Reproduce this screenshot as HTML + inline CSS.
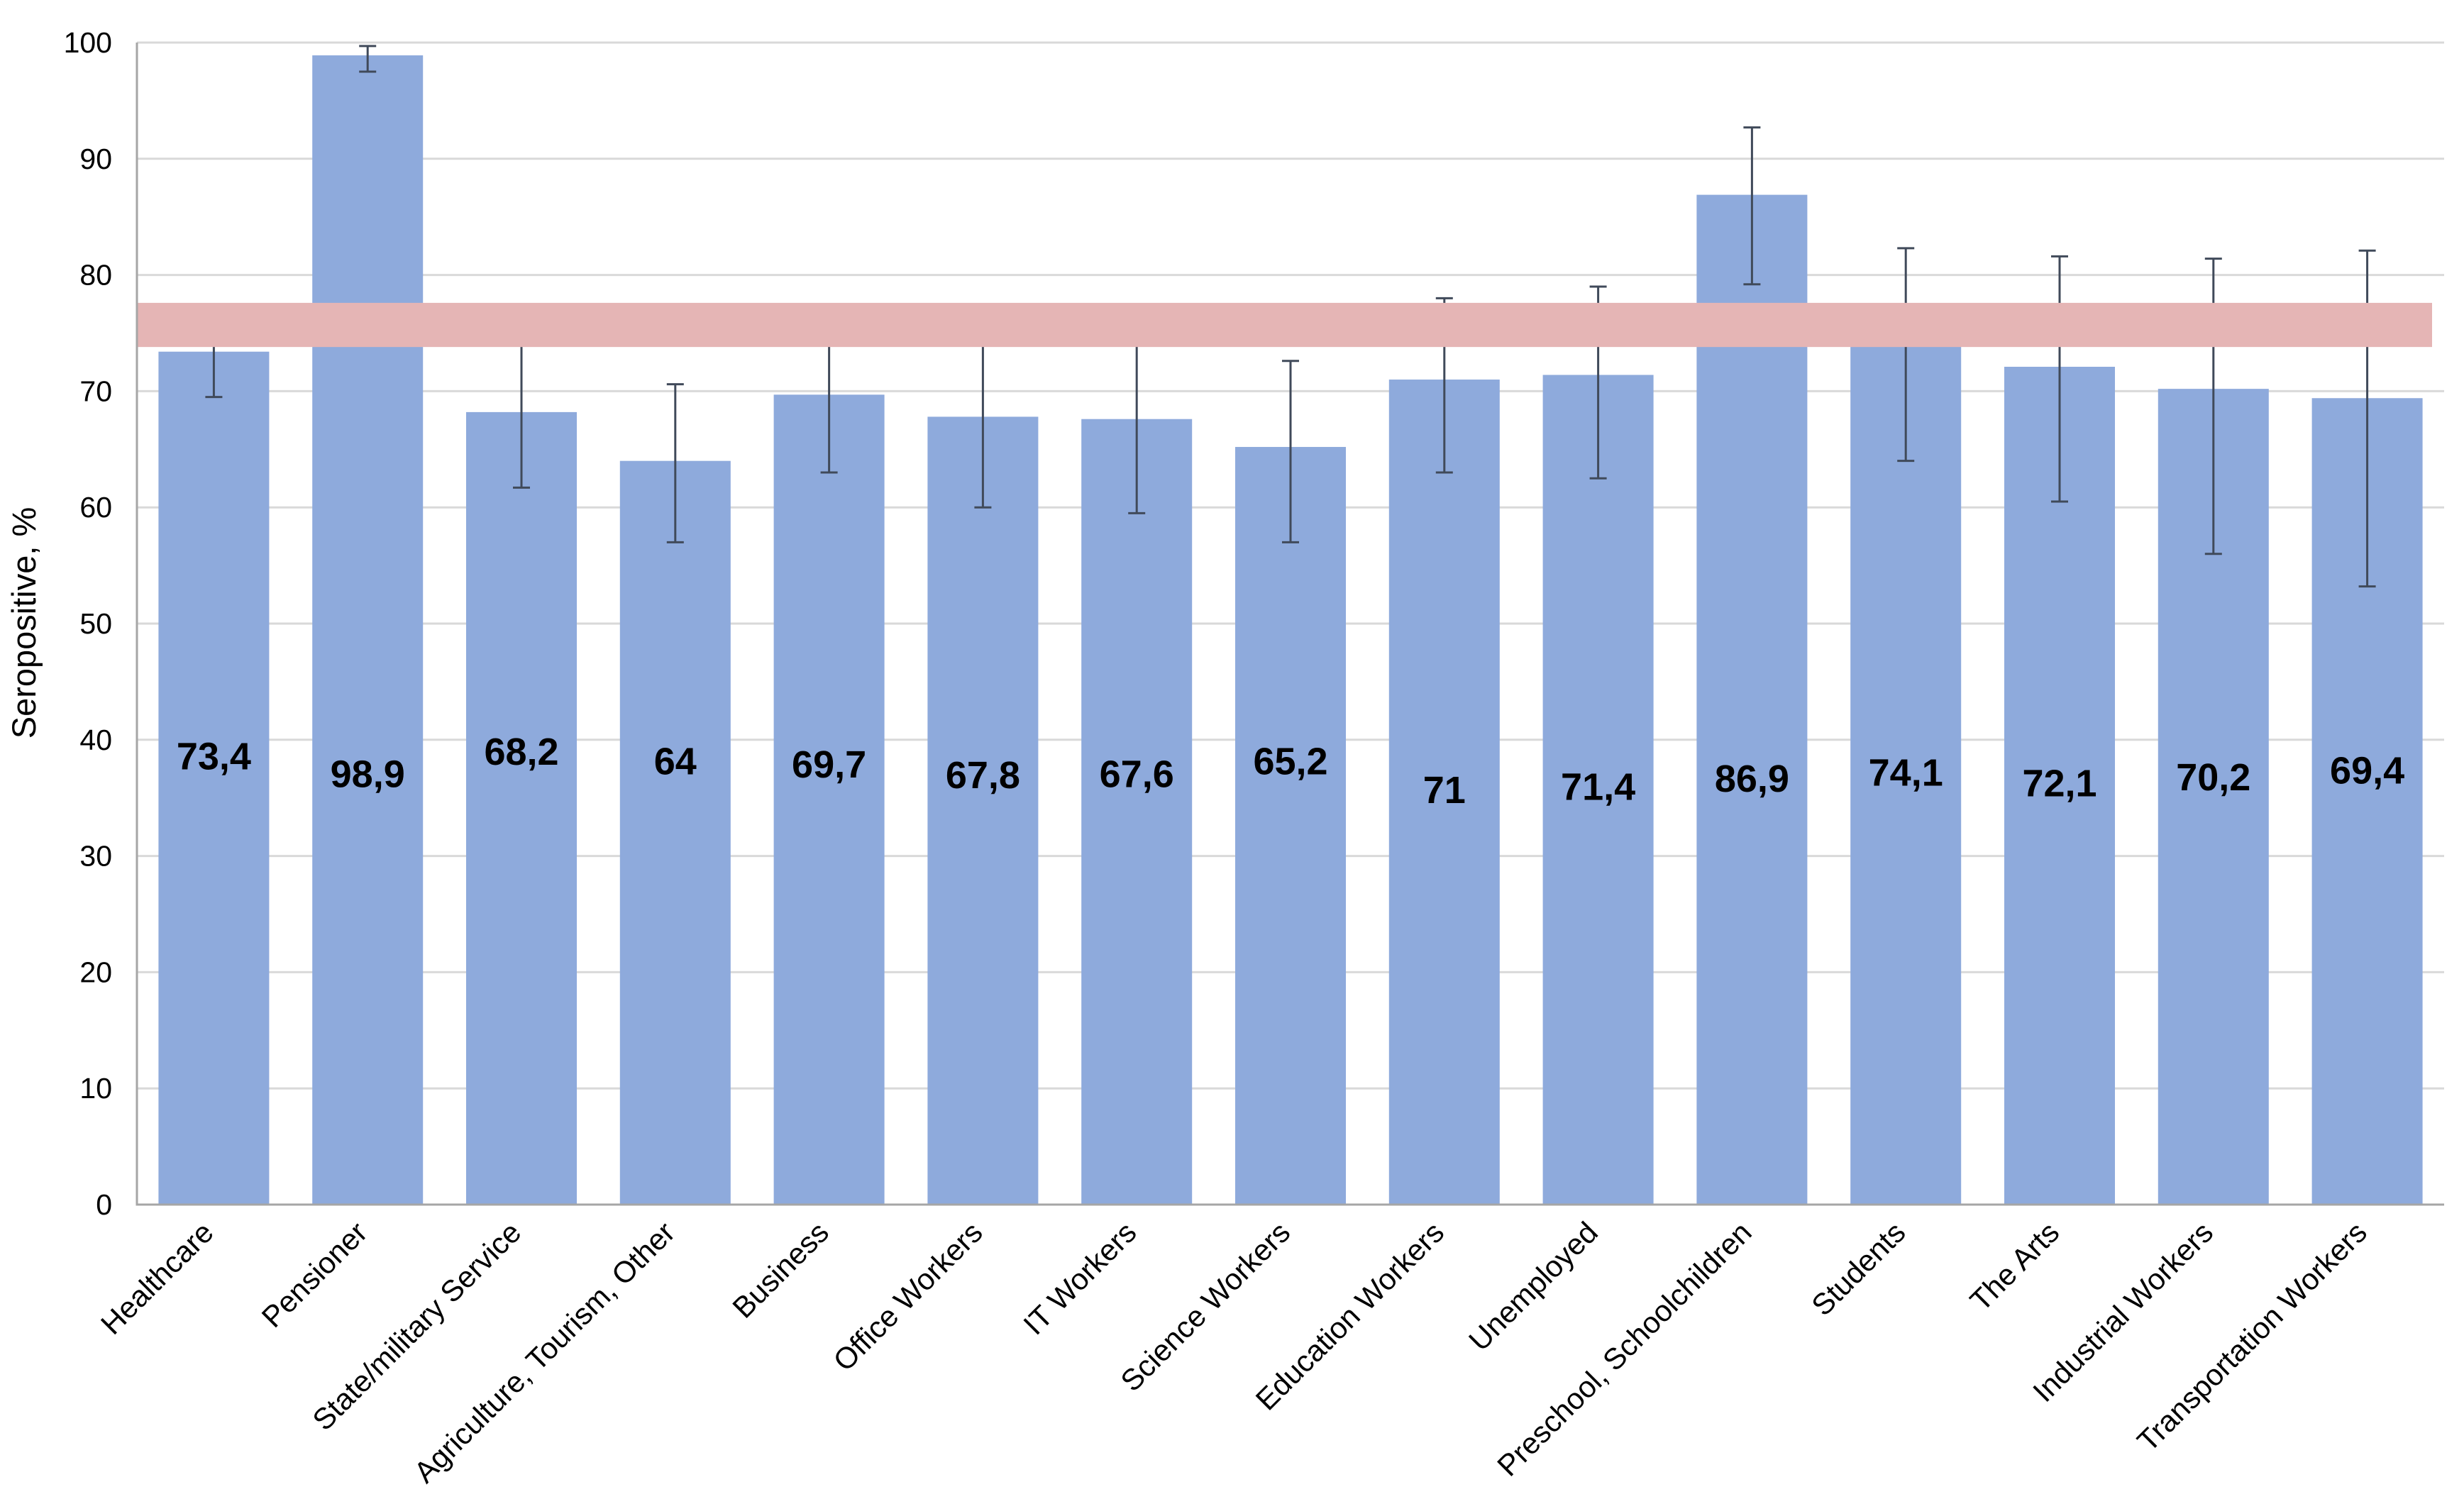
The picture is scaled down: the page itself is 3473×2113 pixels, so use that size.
<!DOCTYPE html>
<html><head><meta charset="utf-8"><style>
html,body{margin:0;padding:0;background:#fff;}
svg{display:block;font-family:"Liberation Sans",Arial,sans-serif;}
</style></head><body>
<svg id="chart" width="3473" height="2113" viewBox="0 0 3473 2113" xmlns="http://www.w3.org/2000/svg">
<g id="grid"></g>
<g id="bars"></g>
<g id="errs"></g>
<rect id="band" fill="#e5b5b5"/>
<g id="vals"></g>
<g id="axes"></g>
<g id="ticks"></g>
<g id="cats"></g>
<text transform="translate(50,878) rotate(-90)" text-anchor="middle" font-size="47" fill="#000">Seropositive, %</text>
</svg>
<script>
const categories = ["Healthcare","Pensioner","State/military Service","Agriculture, Tourism, Other","Business","Office Workers","IT Workers","Science Workers","Education Workers","Unemployed","Preschool, Schoolchildren","Students","The Arts","Industrial Workers","Transportation Workers"];
const values = [73.4,98.9,68.2,64,69.7,67.8,67.6,65.2,71,71.4,86.9,74.1,72.1,70.2,69.4];
const valueLabels = ["73,4","98,9","68,2","64","69,7","67,8","67,6","65,2","71","71,4","86,9","74,1","72,1","70,2","69,4"];
const errLow = [69.5,97.5,61.7,57,63,60,59.5,57,63,62.5,79.2,64,60.5,56,53.2];
const errHigh = [75,99.7,76,70.6,76,76,76,72.6,78,79,92.7,82.3,81.6,81.4,82.1];
const labelLevel = [38.6,37.1,39,38.2,37.9,37,37.1,38.2,35.7,36,36.7,37.2,36.3,36.8,37.4];
const bandRange = [73.8,77.6];
const yTicks = [0,10,20,30,40,50,60,70,80,90,100];

const NS="http://www.w3.org/2000/svg";
const X0=193, X1=3445, Y0=1698, Y100=60;
const yScale=v=>Y0-(v/100)*(Y0-Y100);
const band=(X1-X0)/categories.length;
const xCenter=i=>X0+band*(i+0.5);
const BW=156;
function mk(tag,attrs,parent){const e=document.createElementNS(NS,tag);for(const k in attrs)e.setAttribute(k,attrs[k]);document.getElementById(parent).appendChild(e);return e;}

yTicks.forEach(t=>{
  if(t>0){const g=mk('line',{x1:X0,x2:X1,y1:yScale(t),y2:yScale(t),stroke:'#d9d9d9','stroke-width':3},'grid');
  
  }
  const tl=mk('text',{x:158,y:yScale(t)+14,'text-anchor':'end','font-size':41,fill:'#000'},'ticks');
  tl.textContent=t;
  
  
});

values.forEach((v,i)=>{
  const cx=xCenter(i);
  const r=mk('rect',{x:cx-BW/2,y:yScale(v),width:BW,height:Y0-yScale(v),fill:'#8eaadc'},'bars');
  
  
  const e=mk('path',{d:`M${cx},${yScale(errHigh[i])}V${yScale(errLow[i])}M${cx-12},${yScale(errHigh[i])}H${cx+12}M${cx-12},${yScale(errLow[i])}H${cx+12}`,stroke:'#404a5a','stroke-width':3,fill:'none'},'errs');
  
  
  const t=mk('text',{x:cx,y:yScale(labelLevel[i])+19,'text-anchor':'middle','font-size':54,'font-weight':'bold',fill:'#000'},'vals');
  t.textContent=valueLabels[i];
  
  
  const c=mk('text',{transform:`translate(${cx+2},${Y0+42}) rotate(-45)`,'text-anchor':'end','font-size':42,fill:'#000'},'cats');
  c.textContent=categories[i];
  
  
});

const b=document.getElementById('band');
b.setAttribute('x',X0);b.setAttribute('width',3428-X0);
b.setAttribute('y',yScale(bandRange[1]));b.setAttribute('height',yScale(bandRange[0])-yScale(bandRange[1]));

const ax=mk('path',{d:`M${X0},${Y100}V${Y0}H${X1}`,stroke:'#a6a6a6','stroke-width':3,fill:'none'},'axes');


</script>
</body></html>
